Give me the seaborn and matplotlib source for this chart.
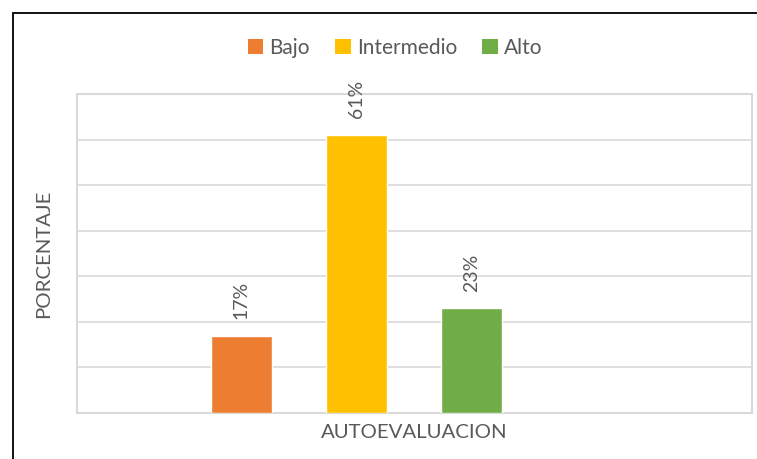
#!/usr/bin/env python3
"""
plot.py
Bar chart of self-evaluation levels (Bajo / Intermedio / Alto) in percent.
"""
import matplotlib
matplotlib.use("Agg")
import matplotlib.pyplot as plt
import seaborn as sns
from matplotlib.patches import Patch, Rectangle

categories = ["Bajo", "Intermedio", "Alto"]
percentages = [17, 61, 23]
bar_colors = ["#ED7D31", "#FFC000", "#70AD47"]
x_label = "AUTOEVALUACION"
y_label = "PORCENTAJE"

GRAY_TEXT = "#595959"
GRID = "#D9D9D9"


def main():
    sns.set_theme(style="white")
    plt.rcParams["font.family"] = ["Lato", "DejaVu Sans"]

    fig = plt.figure(figsize=(7.57, 4.59), dpi=100)
    ax = fig.add_axes([77 / 757, 1 - 413 / 459, 675 / 757, 319 / 459])

    sns.barplot(x=categories, y=percentages, hue=categories, order=categories,
                palette=bar_colors, width=0.53, legend=False, saturation=1,
                ax=ax, zorder=3)

    ax.set_ylim(0, 70)
    ax.set_yticks(range(0, 71, 10))
    ax.set_xlim(-1.43, 4.44)
    ax.grid(axis="y", color=GRID, linewidth=1.2, zorder=0)
    ax.tick_params(left=False, bottom=False, labelleft=False, labelbottom=False)
    for s in ax.spines.values():
        s.set_color(GRID)
        s.set_linewidth(1.5)

    ax.set_xlabel(x_label, fontsize=14.7, color=GRAY_TEXT, labelpad=8)
    ax.set_ylabel(y_label, fontsize=14.7, color=GRAY_TEXT, labelpad=18)

    for i, v in enumerate(percentages):
        ax.annotate(f"{v}%", (i, v), xytext=(0, 12), textcoords="offset points",
                    rotation=90, ha="center", va="bottom", fontsize=14,
                    color=GRAY_TEXT)

    handles = [Patch(facecolor=c, edgecolor="none") for c in bar_colors]
    fig.legend(handles, categories, loc="center", ncol=3,
               bbox_to_anchor=(395 / 757, 1 - 48 / 459), frameon=False,
               fontsize=15, labelcolor=GRAY_TEXT, handlelength=0.75,
               handleheight=0.75, handletextpad=0.3, columnspacing=1.2)

    # outer black frame (only top and left visible in the crop)
    fig.patches.append(Rectangle((13 / 757, -0.05), 1.2, 1 - 13 / 459 + 0.05,
                                 transform=fig.transFigure, fill=False,
                                 edgecolor="black", linewidth=1.3))

    fig.savefig("out.png", dpi=100)
    plt.close(fig)


if __name__ == "__main__":
    main()
